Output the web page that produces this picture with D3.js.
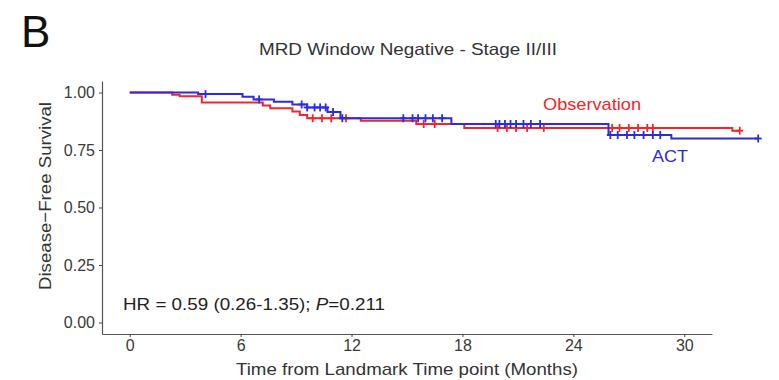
<!DOCTYPE html>
<html>
<head>
<meta charset="utf-8">
<script src="https://cdn.jsdelivr.net/npm/d3@7"></script>
<style>
  body { margin: 0; background: #fff; }
  svg { font-family: "Liberation Sans", Arial, sans-serif; }
  .tick text { fill: #3a3a3a; font-size: 16px; }
</style>
</head>
<body>
<div id="wrapper"></div>
<script>
// survival step points [time (months), survival]
const actSteps = [[0, 1.0], [3.7, 0.993], [6.1, 0.982], [6.7, 0.970], [7.8, 0.960], [8.8, 0.948],
                  [9.6, 0.935], [10.7, 0.915], [11.4, 0.888], [17.4, 0.863], [25.9, 0.815], [29.3, 0.800]]
const actEnd = 34.0
const actCensor = [4.1, 7.0, 9.3, 9.6, 10.0, 10.3, 10.6, 11.0, 11.5, 14.8, 15.3, 15.6, 16.0, 16.4, 16.9,
                   19.8, 20.0, 20.3, 20.6, 20.9, 21.3, 21.7, 22.2, 26.0, 26.4, 26.9, 27.3, 27.8, 28.3, 28.7, 34.0]

const obsSteps = [[0, 1.0], [2.3, 0.99], [2.7, 0.984], [3.9, 0.957], [7.2, 0.943], [7.6, 0.932],
                  [8.8, 0.917], [9.2, 0.902], [9.6, 0.888], [12.5, 0.877], [15.5, 0.863], [18.1, 0.846], [32.6, 0.834]]
const obsEnd = 33.0
const obsCensor = [9.9, 10.4, 10.9, 11.7, 15.9, 16.5, 19.9, 20.4, 20.9, 21.5, 22.4,
                   26.1, 26.5, 27.0, 27.5, 28.0, 28.3, 33.0]

const xTicks = [0, 6, 12, 18, 24, 30]
const yTicks = [0, 0.25, 0.5, 0.75, 1]

const red = "#f2262a"
const blue = "#2b2be0"

const width = 779
const height = 380

const svg = d3.select("#wrapper").append("svg")
    .attr("width", width)
    .attr("height", height)

const x = d3.scaleLinear().domain([-1.5, 31.5]).range([102, 712])
const y = d3.scaleLinear().domain([-0.05, 1.05]).range([334, 81])

// axes
svg.append("g")
    .attr("transform", `translate(0, ${y(-0.05)})`)
    .call(d3.axisBottom(x).tickValues(xTicks).tickSize(3).tickPadding(3).tickSizeOuter(0))
svg.append("g")
    .attr("transform", `translate(${x(-1.5)}, 0)`)
    .call(d3.axisLeft(y).tickValues(yTicks).tickSize(3).tickPadding(4).tickSizeOuter(0)
      .tickFormat(d3.format(".2f")))
svg.selectAll(".domain").attr("stroke", "#555").attr("stroke-width", 1.2)
svg.selectAll(".tick line").attr("stroke", "#444")

// curves
const stepLine = (steps, end) => {
  const pts = steps.concat([[end, steps[steps.length - 1][1]]])
  return d3.line().x(d => x(d[0])).y(d => y(d[1])).curve(d3.curveStepAfter)(pts)
}
const survAt = (steps, t) => {
  let s = steps[0][1]
  steps.forEach(d => { if (d[0] <= t) s = d[1] })
  return s
}

const drawCurve = (steps, end, censor, color) => {
  svg.append("path")
    .attr("d", stepLine(steps, end))
    .attr("fill", "none")
    .attr("stroke", color)
    .attr("stroke-width", 2)
  const g = svg.append("g").attr("stroke", color).attr("stroke-width", 1.8)
  censor.forEach(t => {
    const cx = x(t), cy = y(survAt(steps, t))
    g.append("line").attr("x1", cx - 3.5).attr("x2", cx + 3.5).attr("y1", cy).attr("y2", cy)
    g.append("line").attr("x1", cx).attr("x2", cx).attr("y1", cy - 4).attr("y2", cy + 4)
  })
}

drawCurve(obsSteps, obsEnd, obsCensor, red)
drawCurve(actSteps, actEnd, actCensor, blue)

// texts
const fit = "spacingAndGlyphs"
svg.append("text").attr("x", 21).attr("y", 47)
    .attr("font-size", 44).attr("fill", "#111").text("B")
svg.append("text").attr("x", 259).attr("y", 55)
    .attr("font-size", 16.5).attr("fill", "#333")
    .attr("textLength", 298).attr("lengthAdjust", fit)
    .text("MRD Window Negative - Stage II/III")
svg.append("text")
    .attr("transform", "translate(51, 290) rotate(-90)")
    .attr("font-size", 17).attr("fill", "#333")
    .attr("textLength", 188).attr("lengthAdjust", fit)
    .text("Disease\u2212Free Survival")
svg.append("text").attr("x", 236).attr("y", 375)
    .attr("font-size", 17).attr("fill", "#333")
    .attr("textLength", 342).attr("lengthAdjust", fit)
    .text("Time from Landmark Time point (Months)")

const hr = svg.append("text").attr("x", 123).attr("y", 310)
    .attr("font-size", 17).attr("fill", "#222")
    .attr("textLength", 262).attr("lengthAdjust", fit)
hr.append("tspan").text("HR = 0.59 (0.26-1.35); ")
hr.append("tspan").attr("font-style", "italic").text("P")
hr.append("tspan").text("=0.211")

svg.append("text").attr("x", 543).attr("y", 110)
    .attr("font-size", 17).attr("fill", red)
    .attr("textLength", 98).attr("lengthAdjust", fit)
    .text("Observation")
svg.append("text").attr("x", 652).attr("y", 162)
    .attr("font-size", 17).attr("fill", blue)
    .attr("textLength", 36).attr("lengthAdjust", fit)
    .text("ACT")
</script>
</body>
</html>
